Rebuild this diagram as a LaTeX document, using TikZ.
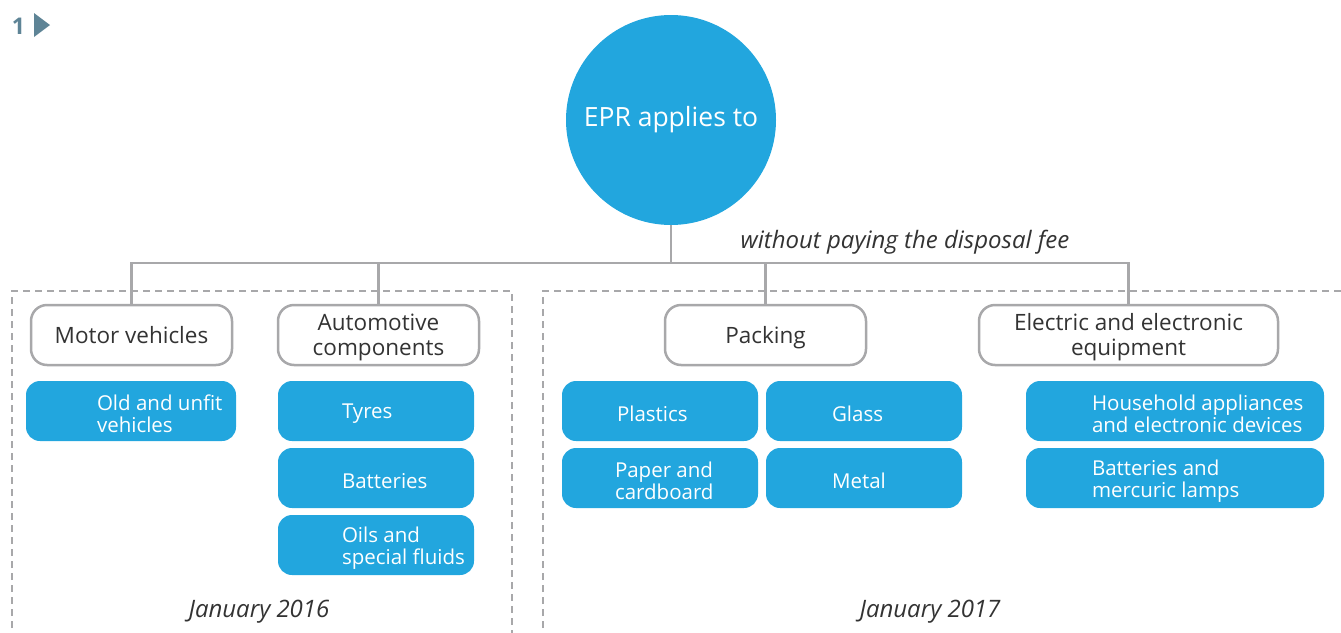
\documentclass[tikz,border=0pt]{standalone}
\usepackage{fontspec}
\setmainfont{Open Sans}
\usetikzlibrary{positioning,shapes}
\definecolor{eprblue}{HTML}{22A6DE}
\definecolor{linegray}{HTML}{A8A8AA}
\definecolor{textgray}{HTML}{333333}
\definecolor{slate}{HTML}{5E8496}

\begin{document}
\begin{tikzpicture}[x=1pt,y=-1pt]
\tikzstyle{every node}+=[inner sep=0pt]
\tikzstyle{group}=[draw=linegray,line width=2.5pt,rounded corners=16pt,fill=white,
  minimum height=60pt,align=center,text depth=1pt,text=textgray,font=\fontsize{22.5}{25}\selectfont]
\tikzstyle{item}=[fill=eprblue,rounded corners=14pt,minimum height=60pt]
\tikzstyle{itemtext}=[align=left,text=white,yshift=-3pt,font=\fontsize{20.5}{22}\selectfont]
\tikzstyle{tree}=[draw=linegray,line width=2.5pt]
\tikzstyle{frame}=[draw=linegray,line width=2pt,dash pattern=on 7pt off 5pt]
\tikzstyle{period}=[text=textgray,font=\fontsize{24}{26}\selectfont\itshape]
\useasboundingbox (0,0) rectangle (1341,632);
% marker in the corner
\node[text=slate,font=\fontsize{23}{24}\selectfont\bfseries] (num) at (18.5,26) {1};
\fill[slate] (34,13) -- (50,25) -- (34,37) -- cycle;
% frames for the two dates
\draw[frame] (12,640) -- (12,291) -- (512,291) -- (512,640);
\draw[frame] (543,640) -- (543,291) -- (1345,291);
% root
\node[circle,fill=eprblue,minimum size=210pt,text=white,font=\fontsize{26.5}{28}\selectfont] (epr) at (671,120) {EPR applies to};
\coordinate (bus) at (671,263);
% groups
\node[group,minimum width=201pt] (motor) at (131.5,335) {Motor vehicles};
\node[group,minimum width=201pt] (auto) at (378.5,335) {Automotive\\components};
\node[group,minimum width=201pt] (packing) at (765.5,335) {Packing};
\node[group,minimum width=299pt] (electric) at (1128.5,335) {Electric and electronic\\equipment};
% tree
\draw[tree] (epr) -- (bus);
\draw[tree] (motor.north) |- (bus) -| (electric.north);
\draw[tree] (auto.north) -- (auto.north |- bus);
\draw[tree] (packing.north) -- (packing.north |- bus);
\node[period,anchor=south] (fee) at (905,254) {without paying the disposal fee};
% items
\node[item,minimum width=210pt] (old) at (131,411) {};
\node[itemtext,right=71pt of old.west] (oldtxt) {Old and unfit\\vehicles};
\node[item,minimum width=196pt] (tyres) at (376,411) {};
\node[itemtext,right=64pt of tyres.west] (tyrestxt) {Tyres};
\node[item,minimum width=196pt] (batt) at (376,478) {};
\node[itemtext,right=64pt of batt.west] (batttxt) {Batteries};
\node[item,minimum width=196pt] (oils) at (376,545) {};
\node[itemtext,right=64pt of oils.west] (oilstxt) {Oils and\\special fluids};
\node[item,minimum width=196pt] (plastics) at (660,411) {};
\node[itemtext,right=55pt of plastics.west] (plasticstxt) {Plastics};
\node[item,minimum width=196pt] (glass) at (864,411) {};
\node[itemtext,right=66pt of glass.west] (glasstxt) {Glass};
\node[item,minimum width=196pt] (paper) at (660,478) {};
\node[itemtext,right=53pt of paper.west] (papertxt) {Paper and\\cardboard};
\node[item,minimum width=196pt] (metal) at (864,478) {};
\node[itemtext,right=66pt of metal.west] (metaltxt) {Metal};
\node[item,minimum width=298pt] (house) at (1175,411) {};
\node[itemtext,right=66pt of house.west] (housetxt) {Household appliances\\and electronic devices};
\node[item,minimum width=298pt] (lamps) at (1175,478) {};
\node[itemtext,right=66pt of lamps.west] (lampstxt) {Batteries and\\mercuric lamps};
% dates
\node[period] (y2016) at (259,612) {January 2016};
\node[period] (y2017) at (930,612) {January 2017};
\end{tikzpicture}
\end{document}
